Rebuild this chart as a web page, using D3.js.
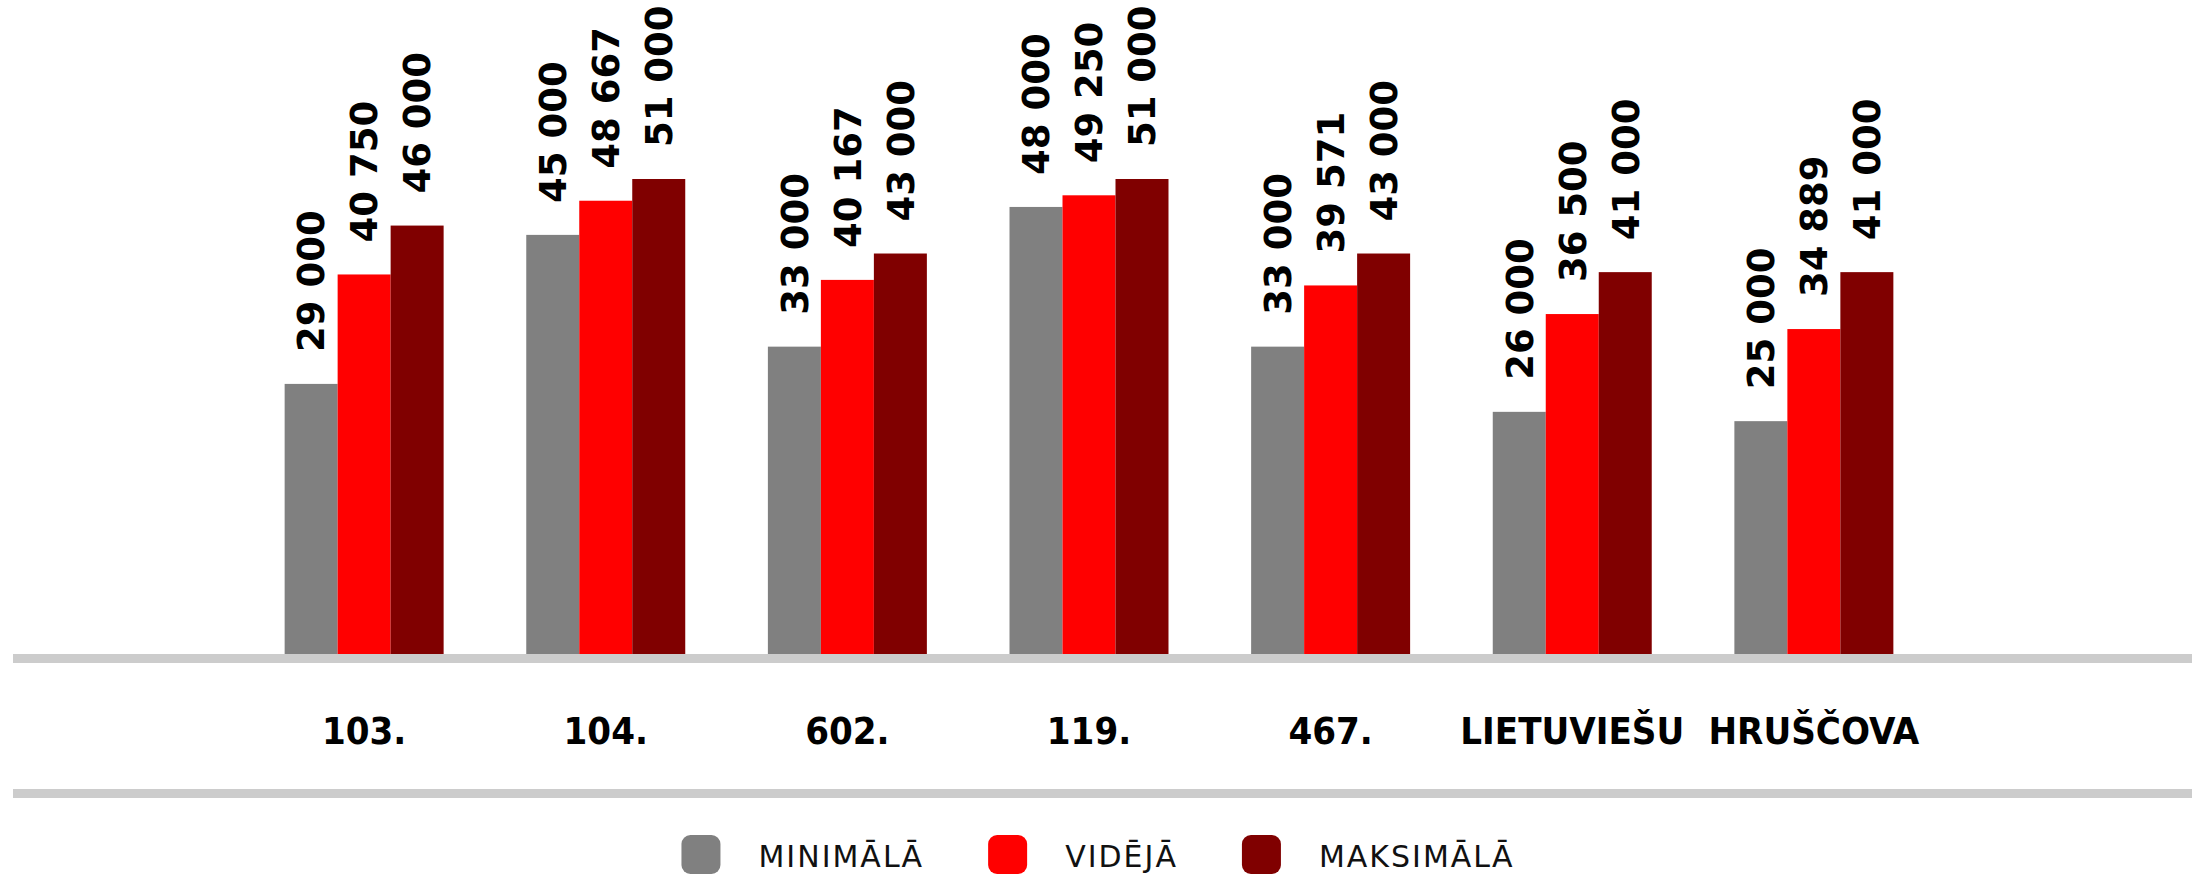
<!DOCTYPE html>
<html>
<head>
<meta charset="utf-8">
<script src="https://cdn.jsdelivr.net/npm/d3@7"></script>
<style>
  body { margin: 0; background: #fff; }
  svg { display: block; }
</style>
</head>
<body>
<svg id="chart" width="2196" height="874"></svg>
<script>
var categories = ["103.", "104.", "602.", "119.", "467.", "LIETUVIEŠU", "HRUŠČOVA"]
var minimala  = [29000, 45000, 33000, 48000, 33000, 26000, 25000]
var videja    = [40750, 48667, 40167, 49250, 39571, 36500, 34889]
var maksimala = [46000, 51000, 43000, 51000, 43000, 41000, 41000]

var seriesNames  = ["MINIMĀLĀ", "VIDĒJĀ", "MAKSIMĀLĀ"]
var seriesColors = ["#808080", "#ff0000", "#800000"]

var keys = ["min", "avg", "max"]
var data = categories.map((c, i) => ({cat: c, min: minimala[i], avg: videja[i], max: maksimala[i]}))

var svg = d3.select("#chart"),
	width = +svg.attr("width"),
	baseY = 654;

var fmt = d3.formatLocale({decimal: ",", thousands: " ", grouping: [3], currency: ["", ""]}).format(",d")

var x = d3.scaleBand()
	.domain(categories)
	.range([202, 1976])
	.padding(0.342)

var x1 = d3.scaleBand()
	.domain(keys)
	.range([0, x.bandwidth()])

var y = d3.scaleLinear()
	.domain([0, 51000])
	.range([baseY, 179])

var z = d3.scaleOrdinal()
	.domain(keys)
	.range(seriesColors)

// bars
var group = svg.append("g").selectAll("g")
	.data(data)
	.enter().append("g")
	.attr("transform", d => `translate(${x(d.cat)},0)`)

group.selectAll("rect")
	.data(d => keys.map(k => ({key: k, value: d[k]})))
	.enter().append("rect")
	.attr("x", d => x1(d.key))
	.attr("y", d => y(d.value))
	.attr("width", x1.bandwidth())
	.attr("height", d => baseY - y(d.value))
	.attr("fill", d => z(d.key))

// rotated value labels
group.selectAll("text")
	.data(d => keys.map(k => ({key: k, value: d[k]})))
	.enter().append("text")
	.attr("transform", d => `translate(${x1(d.key) + x1.bandwidth() / 2},${y(d.value) - 32}) rotate(-90)`)
	.attr("dy", "0.36em")
	.attr("font-family", "DejaVu Sans")
	.attr("font-weight", "bold")
	.attr("font-size", 37)
	.attr("fill", "#000")
	.text(d => fmt(d.value))

// gray rules
svg.append("rect")
	.attr("x", 13).attr("y", baseY)
	.attr("width", 2179).attr("height", 9)
	.attr("fill", "#cccccc")

svg.append("rect")
	.attr("x", 13).attr("y", 789)
	.attr("width", 2179).attr("height", 9)
	.attr("fill", "#cccccc")

// category labels
svg.append("g").selectAll("text")
	.data(categories)
	.enter().append("text")
	.attr("x", d => x(d) + x.bandwidth() / 2)
	.attr("y", 744)
	.attr("text-anchor", "middle")
	.attr("font-family", "DejaVu Sans Condensed")
	.attr("font-weight", "bold")
	.attr("font-size", 38)
	.attr("fill", "#000")
	.text(d => d)

// legend
var legend = svg.append("g")
var items = legend.selectAll("g")
	.data(seriesNames)
	.enter().append("g")

items.append("rect")
	.attr("width", 39).attr("height", 39)
	.attr("rx", 9)
	.attr("y", 835)
	.attr("fill", (d, i) => seriesColors[i])

items.append("text")
	.attr("x", 77)
	.attr("y", 867)
	.attr("font-family", "DejaVu Sans")
	.attr("font-size", 30)
	.attr("letter-spacing", 2)
	.attr("fill", "#111")
	.text(d => d)

var pos = 0
items.each(function() {
	var w = 77 + d3.select(this).select("text").node().getComputedTextLength()
	d3.select(this).attr("transform", `translate(${pos},0)`)
	pos += w + 64
})
var total = pos - 64
legend.attr("transform", `translate(${width / 2 - total / 2},0)`)
</script>
</body>
</html>
